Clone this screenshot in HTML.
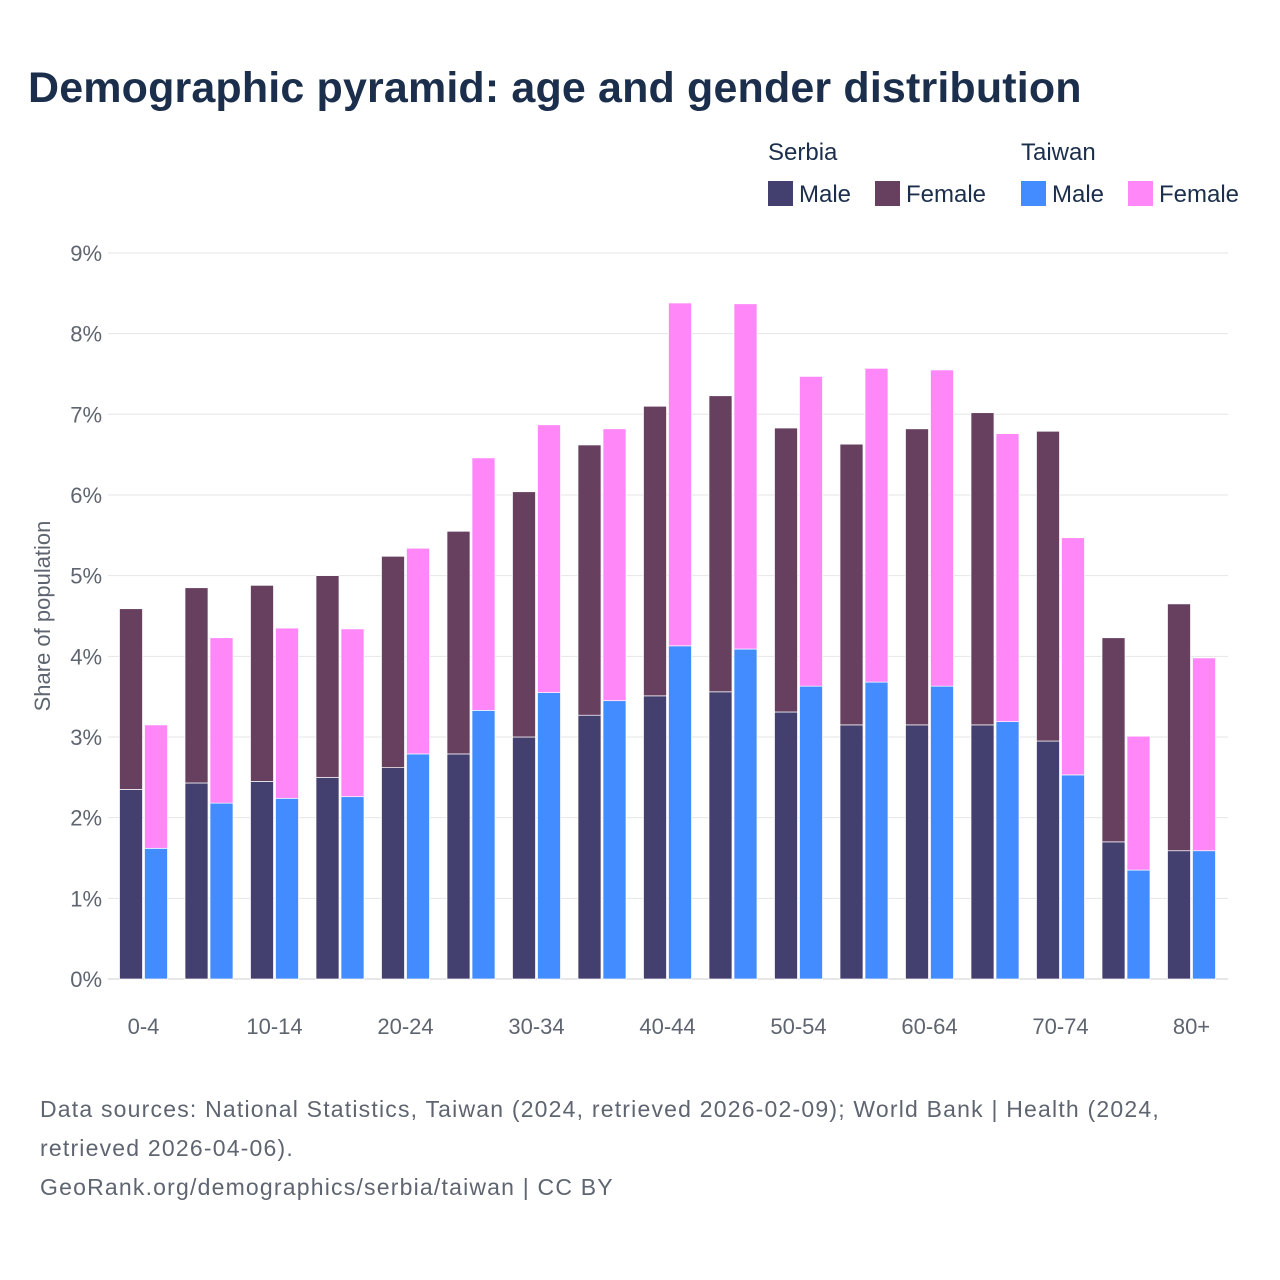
<!DOCTYPE html>
<html><head><meta charset="utf-8">
<style>
body{margin:0;background:#fff;font-family:"Liberation Sans",sans-serif;}
#wrap{position:relative;width:1280px;height:1280px;overflow:hidden;}
.title{position:absolute;left:28px;top:64px;font-size:43px;font-weight:bold;color:#1b2e4b;letter-spacing:0.15px;}
.foot{position:absolute;left:40px;font-size:23px;color:#5f6570;letter-spacing:1.2px;}
</style></head><body>
<div id="wrap">
<div class="title">Demographic pyramid: age and gender distribution</div>
<svg id="chart" width="1280" height="1280" style="position:absolute;left:0;top:0"></svg>
<div class="foot" style="top:1096px">Data sources: National Statistics, Taiwan (2024, retrieved 2026-02-09); World Bank | Health (2024,</div>
<div class="foot" style="top:1135px">retrieved 2026-04-06).</div>
<div class="foot" style="top:1174px">GeoRank.org/demographics/serbia/taiwan | CC BY</div>
</div>
<script>
const categories=["0-4","5-9","10-14","15-19","20-24","25-29","30-34","35-39","40-44","45-49","50-54","55-59","60-64","65-69","70-74","75-79","80+"];
const serbiaMale=[2.35,2.43,2.45,2.50,2.62,2.79,3.00,3.27,3.51,3.56,3.31,3.15,3.15,3.15,2.95,1.70,1.59];
const serbiaFemale=[2.24,2.42,2.43,2.50,2.62,2.76,3.04,3.35,3.59,3.67,3.52,3.48,3.67,3.87,3.84,2.53,3.06];
const taiwanMale=[1.62,2.18,2.24,2.26,2.79,3.33,3.55,3.45,4.13,4.09,3.63,3.68,3.63,3.19,2.53,1.35,1.59];
const taiwanFemale=[1.53,2.05,2.11,2.08,2.55,3.13,3.32,3.37,4.25,4.28,3.84,3.89,3.92,3.57,2.94,1.66,2.39];
const yTicks=[0,1,2,3,4,5,6,7,8,9];
const xLabelIdx=[0,2,4,6,8,10,12,14,16];
const ns="http://www.w3.org/2000/svg";
const svg=document.getElementById('chart');
const X0=110.5,band=65.5,Y0=979,PX=80.67;
const y=v=>Y0-v*PX;
const xs=i=>X0+i*band;
function mk(t,a){const e=document.createElementNS(ns,t);for(const k in a)e.setAttribute(k,a[k]);svg.appendChild(e);return e;}
yTicks.forEach(t=>{
 const l=mk('line',{x1:108,x2:1228,y1:y(t),y2:y(t),stroke:t===0?'#cfcfcf':'#e6e6e6','stroke-width':1});
 
 
 const tx=mk('text',{x:102,y:y(t)+8,'text-anchor':'end','font-size':22,fill:'#5f6570'});
 tx.textContent=t+'%';
 
 
});
const yt=mk('text',{x:0,y:0,'font-size':22,fill:'#5f6570','text-anchor':'middle',transform:'translate(50,616) rotate(-90)'});
yt.textContent='Share of population';


function bar(x,v0,v1,col,name){
 const r=mk('rect',{x:x,y:y(v1),width:23,height:y(v0)-y(v1),fill:col,stroke:'#fff','stroke-width':0.7});
 
 
}
categories.forEach((c,i)=>{
 const x=xs(i);
 bar(x+9,0,serbiaMale[i],'#433f6e','bar-serbia-male-'+c);
 bar(x+9,serbiaMale[i],serbiaMale[i]+serbiaFemale[i],'#673f5f','bar-serbia-female-'+c);
 bar(x+34,0,taiwanMale[i],'#428cff','bar-taiwan-male-'+c);
 bar(x+34,taiwanMale[i],taiwanMale[i]+taiwanFemale[i],'#ff87f8','bar-taiwan-female-'+c);
});
xLabelIdx.forEach(i=>{
 const t=mk('text',{x:xs(i)+33,y:1034,'text-anchor':'middle','font-size':22,fill:'#5f6570'});
 t.textContent=categories[i];
 
 
});
const leg=[["Serbia",768,[["Male",'#433f6e',768],["Female",'#673f5f',875]]],["Taiwan",1021,[["Male",'#428cff',1021],["Female",'#ff87f8',1128]]]];
leg.forEach(g=>{
 const h=mk('text',{x:g[1],y:160,'font-size':24,fill:'#1b2e4b'});
 h.textContent=g[0];
 
 
 g[2].forEach(e=>{
  const r=mk('rect',{x:e[2],y:181,width:25,height:25,fill:e[1]});
  
  
  const t=mk('text',{x:e[2]+31,y:202,'font-size':24,fill:'#1b2e4b'});
  t.textContent=e[0];
  
  
 });
});
</script>
</body></html>
